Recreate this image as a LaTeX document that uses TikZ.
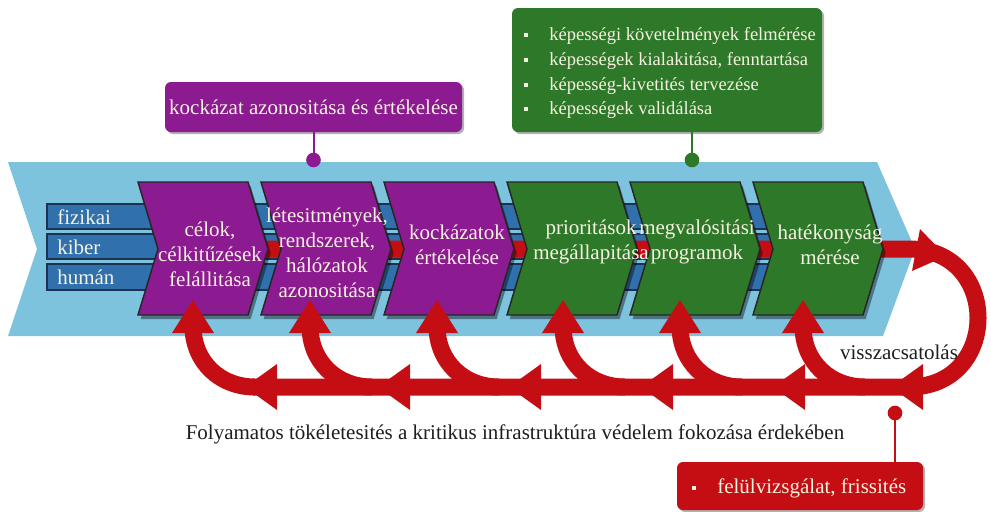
\documentclass[tikz,border=0pt]{standalone}
\usepackage{fontspec}
\setmainfont{Liberation Serif}
\usetikzlibrary{shadows,calc}
\definecolor{bandblue}{RGB}{125,195,222}
\definecolor{stripblue}{RGB}{48,112,172}
\definecolor{stripedge}{RGB}{28,50,80}
\definecolor{chpurple}{RGB}{140,26,145}
\definecolor{chgreen}{RGB}{46,120,42}
\definecolor{fbred}{RGB}{196,14,20}
\definecolor{cream}{RGB}{246,242,224}
\definecolor{darktext}{RGB}{30,30,30}
\begin{document}
\begin{tikzpicture}[x=0.75pt,y=-0.75pt,
  font=\fontsize{15.75}{18.75}\selectfont,
  chev/.style={draw=black!85, line width=1.1pt, line join=miter,
    drop shadow={shadow xshift=2pt, shadow yshift=-3pt, opacity=0.4, fill=black}},
  chevtext/.style={text=cream, align=center, inner sep=0pt},
  striplabel/.style={text=cream, anchor=west, inner sep=0pt},
  stripbox/.style={fill=stripblue, draw=stripedge, line width=1.1pt},
  callout/.style={rounded corners=4.5pt, inner sep=0pt,
    drop shadow={shadow xshift=1.5pt, shadow yshift=-1.5pt, opacity=0.3, fill=black}},
  calltext/.style={text=cream, anchor=base west, inner sep=0pt},
  redline/.style={draw=fbred, line width=12.75pt},
  darklabel/.style={text=darktext, inner sep=0pt}]
\useasboundingbox (0,0) rectangle (991,511);
\fill[white] (0,0) rectangle (991,511);
% blue band
\fill[bandblue] (8,162) -- (877,162) -- (915,249) -- (883,336) -- (8,336) -- (37,249) -- cycle;
% strips
\draw[stripbox] (47,204) rectangle (790,229);
\draw[stripbox] (47,234) rectangle (790,259);
\draw[stripbox] (47,264) rectangle (790,290);
\node[striplabel] (s1) at (57,217) {fizikai};
\node[striplabel] (s2) at (57,247) {kiber};
\node[striplabel] (s3) at (57,277) {humán};
% red feedback main path
\draw[redline] (200,249) -- (909,249) .. controls (1001,249) and (1001,387) .. (909,387) -- (253,387);
% chevrons
\foreach \xo/\col in {138/chpurple,261/chpurple,384/chpurple,507/chgreen,630/chgreen,753/chgreen}
  \filldraw[chev, fill=\col] (\xo,182) -- ++(110,0) -- ++(20,67) -- ++(-20,66) -- ++(-110,0) -- ++(20,-66) -- cycle;
% chevron texts
\node[chevtext] (c1) at (210,254) {célok,\\célkitűzések\\felállitása};
\node[chevtext] (c2) at (327,253) {létesitmények,\\rendszerek,\\hálózatok\\azonositása};
\node[chevtext] (c3) at (457,245) {kockázatok\\értékelése};
\node[chevtext] (c4) at (591,242) {prioritások\\megállapitása};
\node[chevtext] (c5) at (697,242) {megvalósitási\\programok};
\node[chevtext] (c6) at (830,245) {hatékonyság\\mérése};
% red branches into chevrons
\foreach \tx in {193,310,437,563,680,803} {
  \draw[redline] (\tx,326) .. controls (\tx,362) and (\tx+27,387) .. (\tx+62,387);
  \fill[fbred] (\tx-21,333) -- (\tx,300) -- (\tx+21,333) -- cycle;
}
% left-pointing heads on the bottom line
\foreach \bx in {277,410,541,673,805,923}
  \fill[fbred] (\bx,364) -- (\bx-32,387) -- (\bx,410) -- cycle;
% head at top of loop
\fill[fbred] (920,229) -- (946,256) -- (912,271) -- cycle;
\node[darklabel] (fb) at (899,352) {visszacsatolás};
\node[darklabel] (bt) at (515,434) {Folyamatos tökéletesités a kritikus infrastruktúra védelem fokozása érdekében};
% purple callout
\node[callout, fill=chpurple, minimum width=222.75pt, minimum height=37.5pt, text=cream] (pc) at (313.5,107) {kockázat azonositása és értékelése};
\coordinate (pdot) at (313.5,160);
\draw[chpurple, line width=1.5pt] (pc.south) -- (pdot);
\fill[chpurple] (pdot) circle (5.5pt);
% green callout
\node[callout, fill=chgreen, minimum width=232.5pt, minimum height=93pt] (gc) at (667,70) {};
\foreach \yb/\tt in {40/{képességi követelmények felmérése},65/{képességek kialakitása, fenntartása},90/{képesség-kivetités tervezése},114/{képességek validálása}} {
  \fill[cream] (524,\yb-7) rectangle ++(4,4);
  \node[calltext, font=\fontsize{13.9}{16.5}\selectfont] at (549,\yb) {\tt};
}
\coordinate (gdot) at (692,160);
\draw[chgreen, line width=1.5pt] (gdot |- gc.south) -- (gdot);
\fill[chgreen] (gdot) circle (5.5pt);
% red callout
\node[callout, fill=fbred, minimum width=184.5pt, minimum height=36pt] (rc) at (800,486) {};
\fill[cream] (692,486) rectangle ++(4,4);
\node[calltext] (rt) at (717,493) {felülvizsgálat, frissités};
\coordinate (rdot) at (895,413);
\draw[fbred, line width=1.5pt] (rdot) -- (rdot |- rc.north);
\fill[fbred] (rdot) circle (5.5pt);
\end{tikzpicture}
\end{document}
